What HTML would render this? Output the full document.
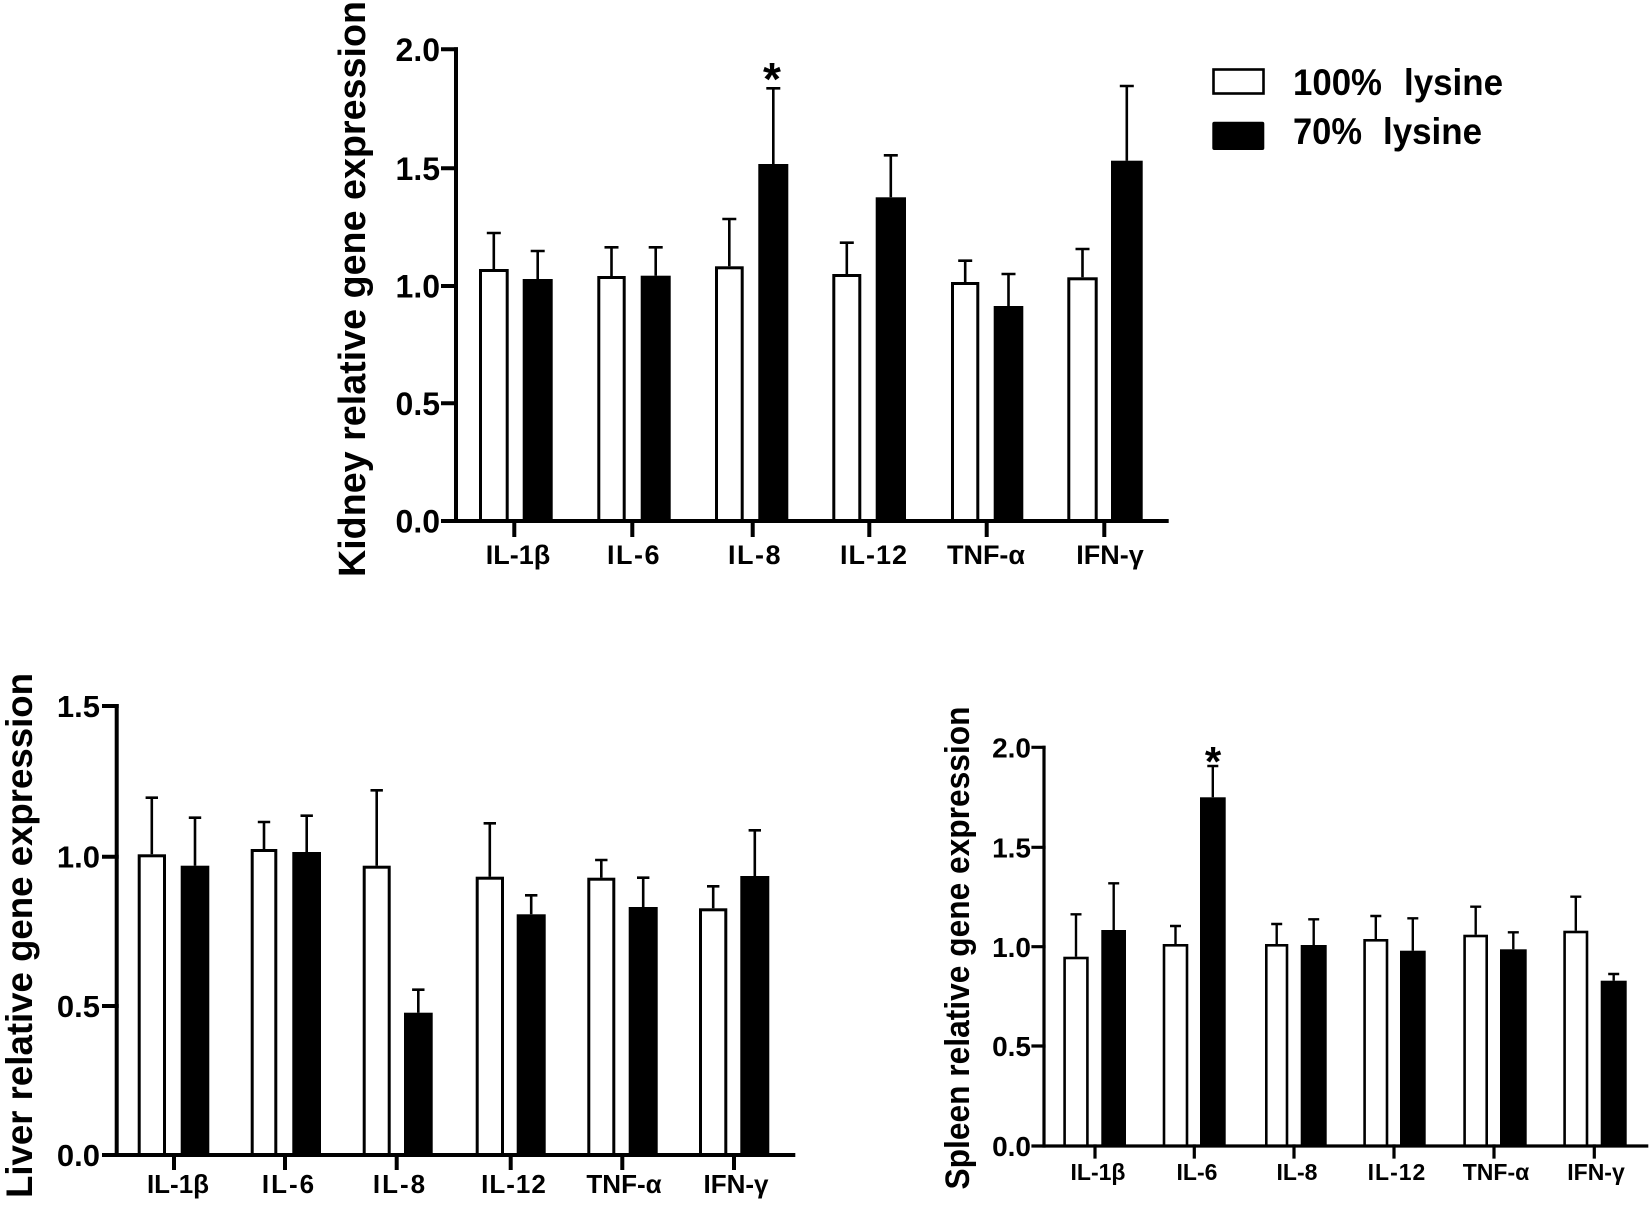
<!DOCTYPE html>
<html>
<head>
<meta charset="utf-8">
<style>
  html, body { margin:0; padding:0; background:#fff; }
  svg { display:block; }
  text { font-family: "Liberation Sans", Arial, sans-serif; font-weight: bold; fill:#000; }
</style>
</head>
<body>
<svg width="1650" height="1211" viewBox="0 0 1650 1211" xmlns="http://www.w3.org/2000/svg">
<rect x="0" y="0" width="1650" height="1211" fill="#fff"/>

<!-- ================= KIDNEY (top) ================= -->
<g id="kidney">
  <g stroke="#000" stroke-width="3">
    <rect x="480.5" y="270.5" width="26.7" height="250.5" fill="#fff"/>
    <rect x="522.7" y="279" width="30" height="242" fill="#000" stroke="none"/>
    <rect x="598.8" y="277.5" width="25.4" height="243.5" fill="#fff"/>
    <rect x="640.7" y="275.7" width="30" height="245.3" fill="#000" stroke="none"/>
    <rect x="716.5" y="267.8" width="25.7" height="253.2" fill="#fff"/>
    <rect x="758.3" y="164" width="30" height="357" fill="#000" stroke="none"/>
    <rect x="833.8" y="275.5" width="26" height="245.5" fill="#fff"/>
    <rect x="875.7" y="197.3" width="30.3" height="323.7" fill="#000" stroke="none"/>
    <rect x="952.5" y="283.5" width="25.3" height="237.5" fill="#fff"/>
    <rect x="993.7" y="306" width="29.6" height="215" fill="#000" stroke="none"/>
    <rect x="1068.8" y="278.8" width="27.4" height="242.2" fill="#fff"/>
    <rect x="1111" y="160.7" width="31.7" height="360.3" fill="#000" stroke="none"/>
  </g>
  <g stroke="#000" stroke-width="2.6" fill="none">
    <path d="M493.8 269V233 M486.8 233H500.8"/>
    <path d="M537.7 279V251 M530.7 251H544.7"/>
    <path d="M611.5 276V247.3 M604.5 247.3H618.5"/>
    <path d="M655.7 275.7V247.3 M648.7 247.3H662.7"/>
    <path d="M729.3 266.3V219 M722.3 219H736.3"/>
    <path d="M773.3 164V88.3 M766.3 88.3H780.3"/>
    <path d="M846.8 274V242.7 M839.8 242.7H853.8"/>
    <path d="M890.8 197.3V155.3 M883.8 155.3H897.8"/>
    <path d="M965.2 282V260.7 M958.2 260.7H972.2"/>
    <path d="M1008.5 306V274 M1001.5 274H1015.5"/>
    <path d="M1082.5 277.3V249 M1075.5 249H1089.5"/>
    <path d="M1126.8 160.7V86 M1119.8 86H1133.8"/>
  </g>
  <g stroke="#000" stroke-width="4" fill="none" stroke-linecap="square">
    <path d="M456 49.3V521"/>
    <path d="M443 521H1166.7"/>
    <path d="M443 49.3H456 M443 168.3H456 M443 286H456 M443 403.3H456"/>
    <path d="M514.3 521V535 M632.3 521V535 M752.7 521V535 M869.3 521V535 M986.7 521V535 M1104.3 521V535"/>
  </g>
  <g font-size="32" text-anchor="end">
    <text x="440" y="61">2.0</text>
    <text x="440" y="180">1.5</text>
    <text x="440" y="297.5">1.0</text>
    <text x="440" y="415">0.5</text>
    <text x="440" y="532.5">0.0</text>
  </g>
  <g font-size="27" text-anchor="middle">
    <text x="518" y="564">IL-1β</text>
    <text x="634" y="564" letter-spacing="1.5">IL-6</text>
    <text x="755" y="564" letter-spacing="1.5">IL-8</text>
    <text x="874" y="564" letter-spacing="1">IL-12</text>
    <text x="986" y="564">TNF-α</text>
    <text x="1110" y="564">IFN-γ</text>
  </g>
  <text x="772" y="95" font-size="46" text-anchor="middle">*</text>
  <text transform="translate(365,289) rotate(-90)" font-size="38" text-anchor="middle" textLength="576" lengthAdjust="spacingAndGlyphs">Kidney relative gene expression</text>
</g>

<!-- legend -->
<g>
  <rect x="1213.5" y="69.5" width="50" height="24" fill="#fff" stroke="#000" stroke-width="2.6"/>
  <rect x="1212.3" y="121.7" width="52" height="28.3" rx="2" fill="#000"/>
  <text y="95" font-size="37"><tspan x="1293" textLength="89" lengthAdjust="spacingAndGlyphs">100%</tspan><tspan x="1404" textLength="99" lengthAdjust="spacingAndGlyphs">lysine</tspan></text>
  <text y="144" font-size="37"><tspan x="1293" textLength="69" lengthAdjust="spacingAndGlyphs">70%</tspan><tspan x="1383" textLength="99" lengthAdjust="spacingAndGlyphs">lysine</tspan></text>
</g>

<!-- ================= LIVER (bottom left) ================= -->
<g id="liver">
  <g stroke="#000" stroke-width="3">
    <rect x="139.2" y="855.8" width="25.3" height="299.2" fill="#fff"/>
    <rect x="180.7" y="865.7" width="28.6" height="289.3" fill="#000" stroke="none"/>
    <rect x="252.2" y="850.5" width="23.6" height="304.5" fill="#fff"/>
    <rect x="292.3" y="852" width="28.7" height="303" fill="#000" stroke="none"/>
    <rect x="364.2" y="867.2" width="25" height="287.8" fill="#fff"/>
    <rect x="404" y="1012.7" width="28.7" height="142.3" fill="#000" stroke="none"/>
    <rect x="477.2" y="878.2" width="25.3" height="276.8" fill="#fff"/>
    <rect x="516.7" y="914.3" width="29" height="240.7" fill="#000" stroke="none"/>
    <rect x="588.8" y="879.2" width="25" height="275.8" fill="#fff"/>
    <rect x="628.7" y="907" width="29" height="248" fill="#000" stroke="none"/>
    <rect x="700.5" y="909.8" width="25.3" height="245.2" fill="#fff"/>
    <rect x="740.3" y="876" width="29" height="279" fill="#000" stroke="none"/>
  </g>
  <g stroke="#000" stroke-width="2.6" fill="none">
    <path d="M151.8 854.3V797.7 M145.6 797.7H158"/>
    <path d="M195 865.7V817.7 M188.8 817.7H201.2"/>
    <path d="M264 849V822 M257.8 822H270.2"/>
    <path d="M306.7 852V815.7 M300.5 815.7H312.9"/>
    <path d="M376.7 865.7V790.3 M370.5 790.3H382.9"/>
    <path d="M418.3 1012.7V989.7 M412.1 989.7H424.5"/>
    <path d="M489.8 876.7V823.3 M483.6 823.3H496"/>
    <path d="M531.2 914.3V895.3 M525 895.3H537.4"/>
    <path d="M601.3 877.7V860 M595.1 860H607.5"/>
    <path d="M643.2 907V877.7 M637 877.7H649.4"/>
    <path d="M713.2 908.3V886.3 M707 886.3H719.4"/>
    <path d="M754.8 876V830.3 M748.6 830.3H761"/>
  </g>
  <g stroke="#000" stroke-width="4" fill="none" stroke-linecap="square">
    <path d="M116.7 706V1155"/>
    <path d="M104 1155H793.3"/>
    <path d="M104 706H116.7 M104 856.7H116.7 M104 1006H116.7"/>
    <path d="M174 1155V1168 M285 1155V1168 M396.7 1155V1168 M510.7 1155V1168 M622.3 1155V1168 M734 1155V1168"/>
  </g>
  <g font-size="31" text-anchor="end">
    <text x="100" y="717">1.5</text>
    <text x="100" y="867.5">1.0</text>
    <text x="100" y="1017">0.5</text>
    <text x="100" y="1166">0.0</text>
  </g>
  <g font-size="26" text-anchor="middle">
    <text x="178" y="1193">IL-1β</text>
    <text x="289" y="1193" letter-spacing="2">IL-6</text>
    <text x="400" y="1193" letter-spacing="2">IL-8</text>
    <text x="514" y="1193" letter-spacing="1">IL-12</text>
    <text x="624" y="1193">TNF-α</text>
    <text x="736" y="1193">IFN-γ</text>
  </g>
  <text transform="translate(32,935.5) rotate(-90)" font-size="37" text-anchor="middle" textLength="525" lengthAdjust="spacingAndGlyphs">Liver relative gene expression</text>
</g>

<!-- ================= SPLEEN (bottom right) ================= -->
<g id="spleen">
  <g stroke="#000" stroke-width="2.6">
    <rect x="1064.6" y="958" width="22.8" height="188" fill="#fff"/>
    <rect x="1101.3" y="930" width="24.7" height="216" fill="#000" stroke="none"/>
    <rect x="1164" y="945.3" width="23" height="200.7" fill="#fff"/>
    <rect x="1200" y="797.3" width="25.7" height="348.7" fill="#000" stroke="none"/>
    <rect x="1266.3" y="945.3" width="20.7" height="200.7" fill="#fff"/>
    <rect x="1300.7" y="945" width="26" height="201" fill="#000" stroke="none"/>
    <rect x="1364.6" y="940.3" width="22.4" height="205.7" fill="#fff"/>
    <rect x="1400" y="950.7" width="25.7" height="195.3" fill="#000" stroke="none"/>
    <rect x="1464.6" y="936" width="22.1" height="210" fill="#fff"/>
    <rect x="1500" y="949.3" width="26.7" height="196.7" fill="#000" stroke="none"/>
    <rect x="1564.6" y="932" width="22.4" height="214" fill="#fff"/>
    <rect x="1600.7" y="980.7" width="26" height="165.3" fill="#000" stroke="none"/>
  </g>
  <g stroke="#000" stroke-width="2.4" fill="none">
    <path d="M1076 956.7V914.3 M1070.5 914.3H1081.5"/>
    <path d="M1113.7 930V883.3 M1108.2 883.3H1119.2"/>
    <path d="M1175.5 944V926 M1170 926H1181"/>
    <path d="M1212.8 797.3V766 M1207.3 766H1218.3"/>
    <path d="M1276.7 944V924 M1271.2 924H1282.2"/>
    <path d="M1313.7 945V919.3 M1308.2 919.3H1319.2"/>
    <path d="M1375.8 939V916 M1370.3 916H1381.3"/>
    <path d="M1412.8 950.7V918.3 M1407.3 918.3H1418.3"/>
    <path d="M1475.7 934.7V906.7 M1470.2 906.7H1481.2"/>
    <path d="M1513.3 949.3V932.3 M1507.8 932.3H1518.8"/>
    <path d="M1575.8 930.7V896.7 M1570.3 896.7H1581.3"/>
    <path d="M1613.7 980.7V974 M1608.2 974H1619.2"/>
  </g>
  <g stroke="#000" stroke-width="3.2" fill="none" stroke-linecap="square">
    <path d="M1044 747.3V1146"/>
    <path d="M1033 1146H1646.7"/>
    <path d="M1033 747.3H1044 M1033 847.3H1044 M1033 946.7H1044 M1033 1046H1044"/>
    <path d="M1095 1146V1157 M1194.3 1146V1157 M1294 1146V1157 M1394 1146V1157 M1494 1146V1157 M1594.3 1146V1157"/>
  </g>
  <g font-size="28" text-anchor="end">
    <text x="1031" y="757.5">2.0</text>
    <text x="1031" y="857.5">1.5</text>
    <text x="1031" y="957">1.0</text>
    <text x="1031" y="1056">0.5</text>
    <text x="1031" y="1156">0.0</text>
  </g>
  <g font-size="23" text-anchor="middle">
    <text x="1098" y="1180">IL-1β</text>
    <text x="1197" y="1180">IL-6</text>
    <text x="1297" y="1180">IL-8</text>
    <text x="1397" y="1180" letter-spacing="1">IL-12</text>
    <text x="1496" y="1180">TNF-α</text>
    <text x="1596" y="1180">IFN-γ</text>
  </g>
  <text x="1213" y="776" font-size="42" text-anchor="middle">*</text>
  <text transform="translate(969,948) rotate(-90)" font-size="34" text-anchor="middle" textLength="483" lengthAdjust="spacingAndGlyphs">Spleen relative gene expression</text>
</g>
</svg>
</body>
</html>
